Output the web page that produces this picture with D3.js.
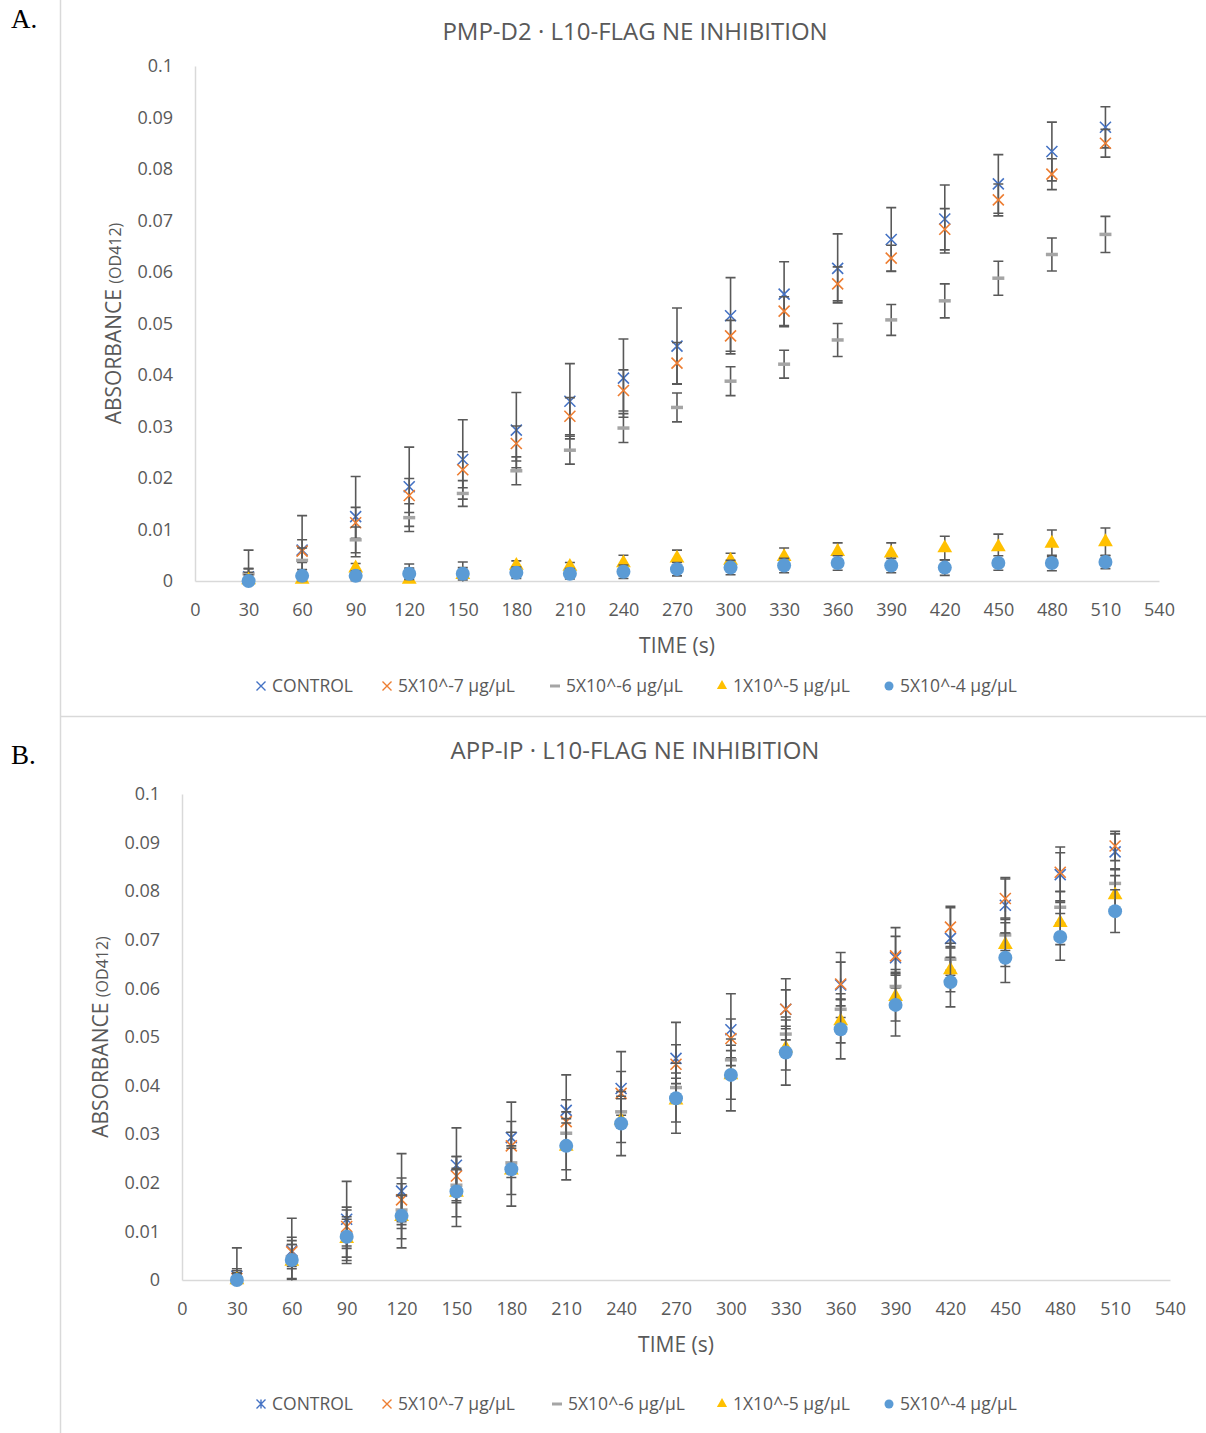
<!DOCTYPE html>
<html>
<head>
  <meta charset="utf-8">
  <title>L10-FLAG NE inhibition</title>
  <script src="https://d3js.org/d3.v7.min.js"></script>
  <style>
    body { margin: 0; background: #fff; }
    text { font-family: "Open Sans", "Noto Sans", sans-serif; fill: #595959; }
    .panel-label { font-family: "Liberation Serif", "DejaVu Serif", serif; fill: #000; font-size: 27px; }
  </style>
</head>
<body>
  <svg id="chart" width="1206" height="1433"></svg>

  <script>
    // time points (s)
    const times = [30, 60, 90, 120, 150, 180, 210, 240, 270, 300, 330, 360, 390, 420, 450, 480, 510];
    const xTicks = [0, 30, 60, 90, 120, 150, 180, 210, 240, 270, 300, 330, 360, 390, 420, 450, 480, 510, 540];
    const yTicks = [0, 0.01, 0.02, 0.03, 0.04, 0.05, 0.06, 0.07, 0.08, 0.09, 0.1];
    const seriesNames = ["CONTROL", "5X10^-7 μg/μL", "5X10^-6 μg/μL", "1X10^-5 μg/μL", "5X10^-4 μg/μL"];

    // panel A : PMP-D2
    const aControl    = [0.0008, 0.0060, 0.0125, 0.0183, 0.0236, 0.0293, 0.0349, 0.0394, 0.0456, 0.0515, 0.0557, 0.0607, 0.0663, 0.0703, 0.0771, 0.0834, 0.0881];
    const aControlErr = [0.0052, 0.0067, 0.0078, 0.0077, 0.0077, 0.0073, 0.0073, 0.0076, 0.0074, 0.0074, 0.0063, 0.0067, 0.0062, 0.0066, 0.0057, 0.0057, 0.0040];
    const aE7    = [0.0004, 0.0058, 0.0113, 0.0166, 0.0216, 0.0267, 0.0320, 0.0370, 0.0423, 0.0476, 0.0524, 0.0577, 0.0627, 0.0683, 0.0740, 0.0790, 0.0850];
    const aE7Err = [0.0020, 0.0022, 0.0030, 0.0033, 0.0035, 0.0034, 0.0036, 0.0040, 0.0040, 0.0030, 0.0028, 0.0033, 0.0025, 0.0040, 0.0031, 0.0030, 0.0027];
    const aE6    = [0.0014, 0.0040, 0.0080, 0.0123, 0.0170, 0.0214, 0.0254, 0.0297, 0.0337, 0.0388, 0.0421, 0.0468, 0.0507, 0.0544, 0.0588, 0.0634, 0.0673];
    const aE6Err = [0.0010, 0.0024, 0.0025, 0.0027, 0.0025, 0.0027, 0.0027, 0.0028, 0.0028, 0.0028, 0.0027, 0.0032, 0.0030, 0.0033, 0.0033, 0.0032, 0.0035];
    const aE5    = [0.0002, 0.0003, 0.0025, 0.0003, 0.0012, 0.0030, 0.0028, 0.0035, 0.0044, 0.0040, 0.0047, 0.0057, 0.0054, 0.0064, 0.0066, 0.0073, 0.0076];
    const aE5Err = [0.0015, 0.0012, 0.0009, 0.0030, 0.0025, 0.0009, 0.0008, 0.0015, 0.0016, 0.0014, 0.0017, 0.0017, 0.0020, 0.0023, 0.0025, 0.0026, 0.0027];
    const aE4    = [0.0000, 0.0010, 0.0010, 0.0014, 0.0014, 0.0016, 0.0014, 0.0018, 0.0023, 0.0026, 0.0030, 0.0035, 0.0030, 0.0026, 0.0035, 0.0035, 0.0037];
    const aE4Err = [0.0012, 0.0012, 0.0010, 0.0011, 0.0012, 0.0011, 0.0010, 0.0013, 0.0013, 0.0014, 0.0014, 0.0014, 0.0014, 0.0015, 0.0014, 0.0015, 0.0013];

    // panel B : APP-IP
    const bControl    = [0.0008, 0.0060, 0.0125, 0.0183, 0.0236, 0.0293, 0.0349, 0.0394, 0.0456, 0.0515, 0.0557, 0.0607, 0.0663, 0.0703, 0.0771, 0.0834, 0.0881];
    const bControlErr = [0.0058, 0.0067, 0.0078, 0.0077, 0.0077, 0.0073, 0.0073, 0.0076, 0.0074, 0.0074, 0.0063, 0.0067, 0.0062, 0.0066, 0.0057, 0.0057, 0.0037];
    const bE7    = [0.0003, 0.0058, 0.0110, 0.0165, 0.0214, 0.0276, 0.0326, 0.0384, 0.0444, 0.0497, 0.0557, 0.0609, 0.0667, 0.0726, 0.0785, 0.0839, 0.0893];
    const bE7Err = [0.0020, 0.0030, 0.0040, 0.0045, 0.0040, 0.0050, 0.0045, 0.0045, 0.0040, 0.0040, 0.0040, 0.0045, 0.0040, 0.0040, 0.0040, 0.0040, 0.0030];
    const bE6    = [0.0004, 0.0048, 0.0095, 0.0144, 0.0195, 0.0241, 0.0302, 0.0346, 0.0396, 0.0453, 0.0506, 0.0557, 0.0604, 0.0660, 0.0710, 0.0767, 0.0816];
    const bE6Err = [0.0015, 0.0025, 0.0030, 0.0030, 0.0032, 0.0030, 0.0030, 0.0032, 0.0030, 0.0030, 0.0035, 0.0032, 0.0035, 0.0033, 0.0032, 0.0033, 0.0030];
    const bE5    = [0.0000, 0.0038, 0.0085, 0.0130, 0.0180, 0.0226, 0.0275, 0.0328, 0.0370, 0.0422, 0.0477, 0.0533, 0.0583, 0.0638, 0.0690, 0.0735, 0.0792];
    const bE5Err = [0.0015, 0.0035, 0.0045, 0.0045, 0.0050, 0.0050, 0.0048, 0.0045, 0.0045, 0.0050, 0.0045, 0.0045, 0.0050, 0.0045, 0.0045, 0.0045, 0.0040];
    const bE4    = [0.0000, 0.0041, 0.0089, 0.0132, 0.0182, 0.0228, 0.0276, 0.0322, 0.0374, 0.0422, 0.0468, 0.0516, 0.0566, 0.0613, 0.0663, 0.0706, 0.0759];
    const bE4Err = [0.0013, 0.0040, 0.0055, 0.0066, 0.0072, 0.0076, 0.0070, 0.0066, 0.0072, 0.0074, 0.0067, 0.0061, 0.0064, 0.0051, 0.0051, 0.0048, 0.0044];

    const colors = ["#4472C4", "#ED7D31", "#A5A5A5", "#FFC000", "#5B9BD5"];
    const errColor = "#595959";

    const svg = d3.select("#chart");

    // frame lines
    svg.append("line").attr("x1", 60.5).attr("x2", 60.5).attr("y1", 0).attr("y2", 1433)
      .attr("stroke", "#D9D9D9").attr("stroke-width", 1.5);
    svg.append("line").attr("x1", 60).attr("x2", 1206).attr("y1", 716.5).attr("y2", 716.5)
      .attr("stroke", "#D9D9D9").attr("stroke-width", 1.5);

    svg.append("text").attr("class", "panel-label").attr("x", 11).attr("y", 28).text("A.");
    svg.append("text").attr("class", "panel-label").attr("x", 11).attr("y", 764).text("B.");

    function drawMarker(g, type, color, cx, cy) {
      if (type === "x" || type === "star") {
        const s = 5.5;
        g.append("path")
          .attr("d", `M${cx - s},${cy - s}L${cx + s},${cy + s}M${cx - s},${cy + s}L${cx + s},${cy - s}` +
            (type === "star" ? `M${cx},${cy - s - 1}L${cx},${cy + s + 1}` : ""))
          .attr("stroke", color).attr("stroke-width", 1.6).attr("fill", "none");
      } else if (type === "dash") {
        g.append("line").attr("x1", cx - 6).attr("x2", cx + 6).attr("y1", cy).attr("y2", cy)
          .attr("stroke", color).attr("stroke-width", 3.5);
      } else if (type === "tri") {
        g.append("path").attr("d", d3.symbol(d3.symbolTriangle, 95)())
          .attr("transform", `translate(${cx},${cy})`).attr("fill", color);
      } else if (type === "dot") {
        g.append("circle").attr("cx", cx).attr("cy", cy).attr("r", 7).attr("fill", color);
      }
    }

    function drawPanel(cfg) {
      const x = d3.scaleLinear().domain([0, 540]).range([cfg.left, cfg.right]);
      const y = d3.scaleLinear().domain([0, 0.1]).range([cfg.bottom, cfg.top]);
      const g = svg.append("g");

      // axes
      const yAxis = g.append("g").attr("transform", `translate(${cfg.left},0)`)
        .call(d3.axisLeft(y).tickValues(yTicks).tickSize(0).tickPadding(22)
          .tickFormat(d => d === 0 ? "0" : d3.format("~g")(+d.toFixed(2))));
      yAxis.select(".domain").attr("stroke", "#D9D9D9").attr("stroke-width", 1.5);
      yAxis.selectAll("text").style("font-size", "18px").attr("fill", "#595959");

      const xAxis = g.append("g").attr("transform", `translate(0,${cfg.bottom})`)
        .call(d3.axisBottom(x).tickValues(xTicks).tickSize(0).tickPadding(22));
      xAxis.select(".domain").attr("stroke", "#D9D9D9").attr("stroke-width", 1.5);
      xAxis.selectAll("text").style("font-size", "18px").attr("fill", "#595959");

      // title
      g.append("text").attr("x", 635).attr("y", cfg.titleY).attr("text-anchor", "middle")
        .style("font-size", "24px").text(cfg.title);

      // axis titles
      g.append("text").attr("x", (cfg.left + cfg.right) / 2).attr("y", cfg.bottom + 72)
        .attr("text-anchor", "middle").style("font-size", "21px").text("TIME (s)");
      const yt = g.append("text")
        .attr("transform", `translate(${cfg.yTitleX},${(cfg.top + cfg.bottom) / 2}) rotate(-90)`)
        .attr("text-anchor", "middle").style("font-size", "21px");
      yt.append("tspan").text("ABSORBANCE ");
      yt.append("tspan").style("font-size", "16px").text("(OD412)");

      // error bars are clipped to the plot area, markers are not
      const clipId = "clip-" + cfg.id;
      g.append("clipPath").attr("id", clipId).append("rect")
        .attr("x", cfg.left - 20).attr("y", cfg.top - 20)
        .attr("width", cfg.right - cfg.left + 40).attr("height", cfg.bottom - cfg.top + 20.5);

      const plot = g.append("g");
      cfg.series.forEach((s, si) => {
        const eb = plot.append("g").attr("clip-path", `url(#${clipId})`);
        times.forEach((t, i) => {
          const cx = x(t), y0 = y(s.values[i] - s.err[i]), y1 = y(s.values[i] + s.err[i]);
          eb.append("path")
            .attr("d", `M${cx},${y0}V${y1}M${cx - 5},${y0}H${cx + 5}M${cx - 5},${y1}H${cx + 5}`)
            .attr("stroke", errColor).attr("stroke-width", 1.6).attr("fill", "none");
        });
        const mk = plot.append("g");
        times.forEach((t, i) => drawMarker(mk, s.marker, colors[si], x(t), y(s.values[i])));
      });

      // legend
      const lg = g.append("g");
      cfg.series.forEach((s, si) => {
        const lx = cfg.legendX[si];
        const m = lg.append("g");
        if (s.marker === "dot") {
          m.append("circle").attr("cx", lx).attr("cy", cfg.legendY).attr("r", 4.5).attr("fill", colors[si]);
        } else if (s.marker === "tri") {
          m.append("path").attr("d", d3.symbol(d3.symbolTriangle, 45)())
            .attr("transform", `translate(${lx},${cfg.legendY})`).attr("fill", colors[si]);
        } else if (s.marker === "dash") {
          m.append("line").attr("x1", lx - 5).attr("x2", lx + 5).attr("y1", cfg.legendY).attr("y2", cfg.legendY)
            .attr("stroke", colors[si]).attr("stroke-width", 3);
        } else {
          const r = 4.5;
          m.append("path")
            .attr("d", `M${lx - r},${cfg.legendY - r}L${lx + r},${cfg.legendY + r}M${lx - r},${cfg.legendY + r}L${lx + r},${cfg.legendY - r}` +
              (s.marker === "star" ? `M${lx},${cfg.legendY - r}L${lx},${cfg.legendY + r}` : ""))
            .attr("stroke", colors[si]).attr("stroke-width", 1.4).attr("fill", "none");
        }
        lg.append("text").attr("x", lx + 11).attr("y", cfg.legendY).attr("dy", "0.35em")
          .style("font-size", "17.5px").text(seriesNames[si]);
      });
    }

    drawPanel({
      id: "a",
      title: "PMP-D2 · L10-FLAG NE INHIBITION",
      titleY: 40, left: 195, right: 1159, top: 66, bottom: 581, yTitleX: 121,
      legendY: 686, legendX: [261, 387, 555, 722, 889],
      series: [
        { values: aControl, err: aControlErr, marker: "x" },
        { values: aE7, err: aE7Err, marker: "x" },
        { values: aE6, err: aE6Err, marker: "dash" },
        { values: aE5, err: aE5Err, marker: "tri" },
        { values: aE4, err: aE4Err, marker: "dot" }
      ]
    });

    drawPanel({
      id: "b",
      title: "APP-IP · L10-FLAG NE INHIBITION",
      titleY: 759, left: 182, right: 1170, top: 794, bottom: 1280, yTitleX: 108,
      legendY: 1404, legendX: [261, 387, 557, 722, 889],
      series: [
        { values: bControl, err: bControlErr, marker: "star" },
        { values: bE7, err: bE7Err, marker: "x" },
        { values: bE6, err: bE6Err, marker: "dash" },
        { values: bE5, err: bE5Err, marker: "tri" },
        { values: bE4, err: bE4Err, marker: "dot" }
      ]
    });
  </script>
</body>
</html>
